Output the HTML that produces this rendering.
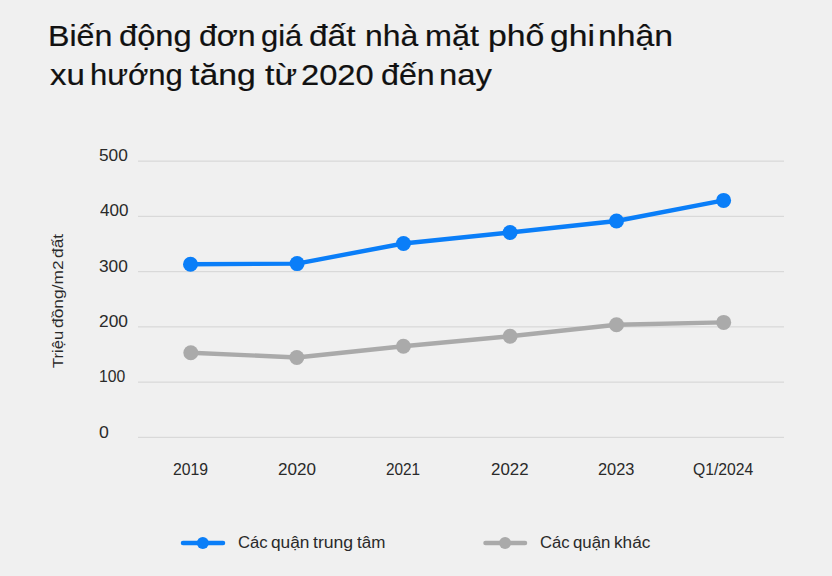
<!DOCTYPE html>
<html>
<head>
<meta charset="utf-8">
<style>
html,body{margin:0;padding:0;}
body{width:832px;height:576px;background:#f0f0f0;position:relative;overflow:hidden;font-family:"Liberation Sans",sans-serif;}
.t{position:absolute;white-space:nowrap;}
.ttl{font-size:30px;line-height:39.3px;color:#111;-webkit-text-stroke:0.2px #111;transform-origin:0 0;}
.ax{font-size:16.2px;color:#2a2a2a;line-height:16px;transform-origin:0 0;}
.lg{font-size:16px;color:#2a2a2a;line-height:16px;transform-origin:0 0;}
#ytitle{left:0;top:0;width:0;height:0;transform-origin:0 0;transform:translate(50.1px,370px) rotate(-90deg);}
.yt{font-size:15.5px;color:#2a2a2a;line-height:16px;transform-origin:0 0;}
svg{position:absolute;left:0;top:0;}
</style>
</head>
<body>
<div class="t ttl" style="left:47.7px;top:15.8px;transform:scaleX(1.073)">Biến</div>
<div class="t ttl" style="left:119.4px;top:15.8px;transform:scaleX(1.089)">động</div>
<div class="t ttl" style="left:198.5px;top:15.8px;transform:scaleX(1.068)">đơn</div>
<div class="t ttl" style="left:260.6px;top:15.8px;transform:scaleX(1.031)">giá</div>
<div class="t ttl" style="left:309.1px;top:15.8px;transform:scaleX(1.115)">đất</div>
<div class="t ttl" style="left:364.6px;top:15.8px;transform:scaleX(1.062)">nhà</div>
<div class="t ttl" style="left:425.1px;top:15.8px;transform:scaleX(1.077)">mặt</div>
<div class="t ttl" style="left:487.5px;top:15.8px;transform:scaleX(1.126)">phố</div>
<div class="t ttl" style="left:549.7px;top:15.8px;transform:scaleX(1.122)">ghi</div>
<div class="t ttl" style="left:598.2px;top:15.8px;transform:scaleX(1.124)">nhận</div>
<div class="t ttl" style="left:49.8px;top:55.2px;transform:scaleX(1.100)">xu</div>
<div class="t ttl" style="left:89.6px;top:55.2px;transform:scaleX(1.034)">hướng</div>
<div class="t ttl" style="left:190.2px;top:55.2px;transform:scaleX(1.125)">tăng</div>
<div class="t ttl" style="left:265.0px;top:55.2px;transform:scaleX(1.125)">từ</div>
<div class="t ttl" style="left:300.9px;top:55.2px;transform:scaleX(1.089)">2020</div>
<div class="t ttl" style="left:381.4px;top:55.2px;transform:scaleX(1.072)">đến</div>
<div class="t ttl" style="left:438.8px;top:55.2px;transform:scaleX(1.093)">nay</div>

<svg width="832" height="576" viewBox="0 0 832 576">
  <g stroke="#d9d9d9" stroke-width="1.3">
    <line x1="138" y1="161.20" x2="784" y2="161.20"/>
    <line x1="138" y1="216.44" x2="784" y2="216.44"/>
    <line x1="138" y1="271.68" x2="784" y2="271.68"/>
    <line x1="138" y1="326.92" x2="784" y2="326.92"/>
    <line x1="138" y1="382.16" x2="784" y2="382.16"/>
    <line x1="138" y1="437.40" x2="784" y2="437.40"/>
  </g>
  <polyline fill="none" stroke="#0a7ef8" stroke-width="4.4" stroke-linejoin="round" points="190.5,264.2 297.1,263.6 403.5,243.5 510.1,232.5 616.5,221 723.6,200.4"/>
  <g fill="#0a7ef8">
    <circle cx="190.5" cy="264.2" r="7.5"/>
    <circle cx="297.1" cy="263.6" r="7.5"/>
    <circle cx="403.5" cy="243.5" r="7.5"/>
    <circle cx="510.1" cy="232.5" r="7.5"/>
    <circle cx="616.5" cy="221" r="7.5"/>
    <circle cx="723.6" cy="200.4" r="7.5"/>
  </g>
  <polyline fill="none" stroke="#aaaaaa" stroke-width="4.4" stroke-linejoin="round" points="190.8,352.7 296.8,357.5 403.4,346.3 510.1,336.2 616.5,324.8 723.7,322.4"/>
  <g fill="#aaaaaa">
    <circle cx="190.8" cy="352.7" r="7.5"/>
    <circle cx="296.8" cy="357.5" r="7.5"/>
    <circle cx="403.4" cy="346.3" r="7.5"/>
    <circle cx="510.1" cy="336.2" r="7.5"/>
    <circle cx="616.5" cy="324.8" r="7.5"/>
    <circle cx="723.7" cy="322.4" r="7.5"/>
  </g>
  <line x1="183" y1="543" x2="223" y2="543" stroke="#0a7ef8" stroke-width="4.5" stroke-linecap="round"/>
  <circle cx="202.8" cy="543" r="6" fill="#0a7ef8"/>
  <line x1="485.5" y1="543" x2="525" y2="543" stroke="#aaaaaa" stroke-width="4.5" stroke-linecap="round"/>
  <circle cx="505.1" cy="543" r="6" fill="#aaaaaa"/>
</svg>

<div class="t ax" style="left:99.20px;top:147.25px;transform:scaleX(1.067)">500</div>
<div class="t ax" style="left:99.54px;top:202.45px;transform:scaleX(1.054)">400</div>
<div class="t ax" style="left:99.00px;top:258.05px;transform:scaleX(1.067)">300</div>
<div class="t ax" style="left:99.00px;top:313.25px;transform:scaleX(1.071)">200</div>
<div class="t ax" style="left:98.78px;top:368.45px;transform:scaleX(0.972)">100</div>
<div class="t ax" style="left:99.18px;top:423.95px;transform:scaleX(1.093)">0</div>

<div class="t ax" style="left:173.02px;top:461.45px;transform:scaleX(0.975)">2019</div>
<div class="t ax" style="left:278.01px;top:461.45px;transform:scaleX(1.055)">2020</div>
<div class="t ax" style="left:385.89px;top:461.45px;transform:scaleX(0.948)">2021</div>
<div class="t ax" style="left:491.42px;top:461.45px;transform:scaleX(1.043)">2022</div>
<div class="t ax" style="left:598.14px;top:461.45px;transform:scaleX(1.012)">2023</div>
<div class="t ax" style="left:692.87px;top:461.45px;transform:scaleX(0.972)">Q1/2024</div>

<div class="t" id="ytitle">
<div class="t yt" style="left:1.93px;top:0;transform:scaleX(1.076)">Triệu</div>
<div class="t yt" style="left:42.16px;top:0;transform:scaleX(1.123)">đồng/m2</div>
<div class="t yt" style="left:111.96px;top:0;transform:scaleX(1.123)">đất</div>
</div>

<div class="t lg" style="left:238.0px;top:535.3px;transform:scaleX(1.042)">Các</div>
<div class="t lg" style="left:270.7px;top:535.3px;transform:scaleX(1.081)">quận</div>
<div class="t lg" style="left:312.9px;top:535.3px;transform:scaleX(1.101)">trung</div>
<div class="t lg" style="left:357.3px;top:535.3px;transform:scaleX(1.063)">tâm</div>
<div class="t lg" style="left:540.4px;top:535.3px;transform:scaleX(1.042)">Các</div>
<div class="t lg" style="left:573.4px;top:535.3px;transform:scaleX(1.052)">quận</div>
<div class="t lg" style="left:613.9px;top:535.3px;transform:scaleX(1.076)">khác</div>
</body>
</html>
